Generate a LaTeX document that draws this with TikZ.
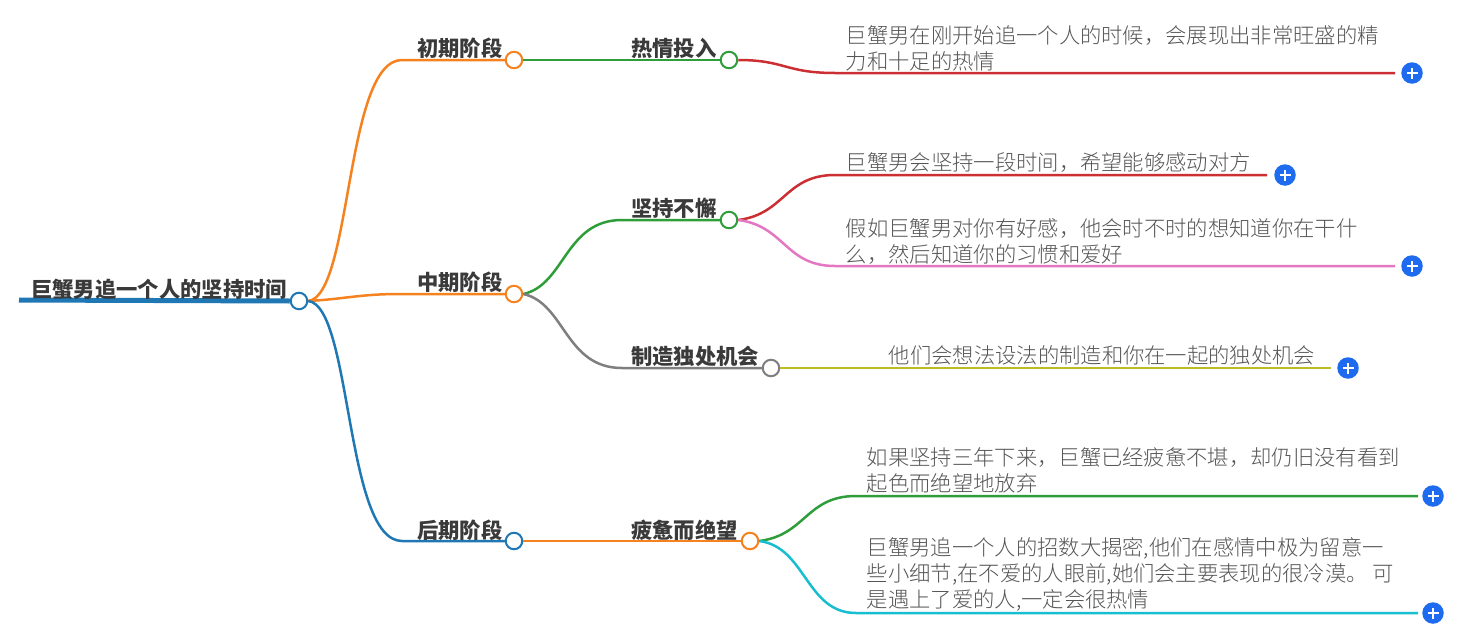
\documentclass[tikz,border=0pt]{standalone}
\usepackage{fontspec}
\setmainfont{Noto Sans CJK SC}[Kerning=Off]
\newfontfamily\lightcjk{Noto Sans CJK SC Light}[Kerning=Off]
\definecolor{corange}{HTML}{F5821F}
\definecolor{cgreen}{HTML}{2F9E3A}
\definecolor{cred}{HTML}{CC2F33}
\definecolor{cpink}{HTML}{E377C2}
\definecolor{cgray}{HTML}{7F7F7F}
\definecolor{colive}{HTML}{BCBD22}
\definecolor{ccyan}{HTML}{17BECF}
\definecolor{cblue}{HTML}{1F77B4}
\definecolor{cplus}{HTML}{1E6BF0}
\definecolor{ctitle}{HTML}{3A3A3A}
\definecolor{cbody}{HTML}{555555}
\tikzset{
  x=1pt,y=-1pt,
  dot/.style={circle,draw=#1,line width=2pt,fill=white,minimum size=16.5pt,inner sep=0pt},
  plusbtn/.style={circle,fill=cplus,minimum size=21.5pt,inner sep=0pt,
    path picture={\draw[white,line width=1.7pt] ([xshift=-5.5pt]path picture bounding box.center)--([xshift=5.5pt]path picture bounding box.center) ([yshift=-5.5pt]path picture bounding box.center)--([yshift=5.5pt]path picture bounding box.center);}},
  head/.style={anchor=west,inner sep=0pt,font=\fontsize{21.33}{25}\selectfont\bfseries,text=ctitle},
  body/.style={anchor=west,inner sep=0pt,align=left,font=\fontsize{21.33}{26}\lightcjk,text=cbody},
  link/.style={draw=#1,line width=2.5pt}
}
\begin{document}
\begin{tikzpicture}
\useasboundingbox (0,0) rectangle (1468,640);
% end points
\coordinate (rs) at (19,300);
\coordinate (a1) at (402,60);
\coordinate (a2) at (400,294);
\coordinate (a3) at (402,541);
\coordinate (b1) at (622,60);
\coordinate (b2) at (622,220);
\coordinate (b3) at (622,368);
\coordinate (b4) at (622,541);
\coordinate (c1) at (835,73);
\coordinate (c2) at (835,175);
\coordinate (c3) at (835,266);
\coordinate (c4) at (868,368);
\coordinate (c5) at (856,496);
\coordinate (c6) at (856,613);
% dots
\node[dot=cblue] (root) at (299,301) {};
\node[dot=corange] (n1) at (514,60) {};
\node[dot=corange] (n2) at (514,294) {};
\node[dot=cblue] (n3) at (514,541) {};
\node[dot=cgreen] (m1) at (729,60) {};
\node[dot=cgreen] (m2) at (729,220) {};
\node[dot=cgray] (m3) at (771,368) {};
\node[dot=corange] (m4) at (750,541) {};
\node[plusbtn] (p1) at (1412,73) {};
\node[plusbtn] (p2) at (1285,175) {};
\node[plusbtn] (p3) at (1412,266) {};
\node[plusbtn] (p4) at (1348,368) {};
\node[plusbtn] (p5) at (1433,496) {};
\node[plusbtn] (p6) at (1433,613) {};
% connectors
\draw[draw=cblue,line width=5pt] (rs) -- (root.west);
\draw[link=corange] (root.east) .. controls (352,296) and (345,60) .. (a1) -- (n1.west);
\draw[link=corange] (root.east) .. controls (345,299) and (360,294) .. (a2) -- (n2.west);
\draw[link=cblue] (root.east) .. controls (352,306) and (345,541) .. (a3) -- (n3.west);
\draw[link=cgreen] (n1.east) -- (b1) -- (m1.west);
\draw[link=cgreen] (n2.east) .. controls (565,285) and (565,220) .. (b2) -- (m2.west);
\draw[link=cgray] (n2.east) .. controls (565,303) and (565,368) .. (b3) -- (m3.west);
\draw[link=corange] (n3.east) -- (b4) -- (m4.west);
\draw[link=cred] (m1.east) .. controls (785,60) and (785,73) .. (c1) -- ([xshift=-6pt]p1.west);
\draw[link=cred] (m2.east) .. controls (785,214) and (785,175) .. (c2) -- ([xshift=-7pt]p2.west);
\draw[link=cpink] (m2.east) .. controls (785,226) and (785,266) .. (c3) -- ([xshift=-6pt]p3.west);
\draw[link=colive] (m3.east) -- (c4) -- ([xshift=-6pt]p4.west);
\draw[link=cgreen] (m4.east) .. controls (806,535) and (806,496) .. (c5) -- ([xshift=-4pt]p5.west);
\draw[link=ccyan] (m4.east) .. controls (806,547) and (806,613) .. (c6) -- ([xshift=-4pt]p6.west);
% labels
\node[head] (troot) at (31,289) {巨蟹男追一个人的坚持时间};
\node[head] (t1) at (417,48) {初期阶段};
\node[head] (t2) at (417,282) {中期阶段};
\node[head] (t3) at (417,530) {后期阶段};
\node[head] (t4) at (631,48) {热情投入};
\node[head] (t5) at (631,208) {坚持不懈};
\node[head] (t6) at (631,356) {制造独处机会};
\node[head] (t7) at (631,530) {疲惫而绝望};
\node[body] (d1) at (845.5,48.5) {巨蟹男在刚开始追一个人的时候，会展现出非常旺盛的精\\力和十足的热情};
\node[body] (d2) at (845.5,163) {巨蟹男会坚持一段时间，希望能够感动对方};
\node[body] (d3) at (845.5,241) {假如巨蟹男对你有好感，他会时不时的想知道你在干什\\么，然后知道你的习惯和爱好};
\node[body] (d4) at (888.5,355) {他们会想法设法的制造和你在一起的独处机会};
\node[body] (d5) at (866.5,470) {如果坚持三年下来，巨蟹已经疲惫不堪，却仍旧没有看到\\起色而绝望地放弃};
\node[body] (d6) at (866.5,574.5) {巨蟹男追一个人的招数大揭密,他们在感情中极为留意一\\些小细节,在不爱的人眼前,她们会主要表现的很冷漠。 可\\是遇上了爱的人,一定会很热情};
\end{tikzpicture}
\end{document}
